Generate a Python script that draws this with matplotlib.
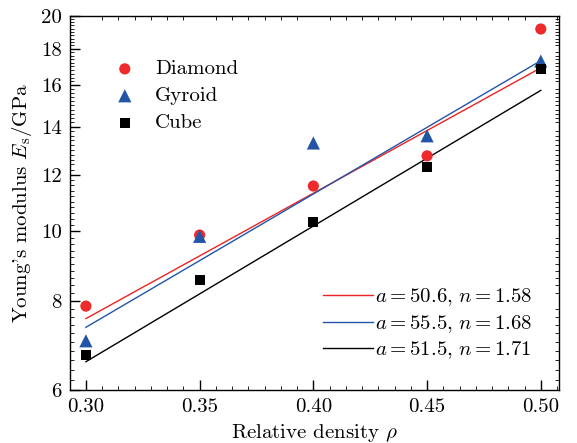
"""Young's modulus vs relative density for three lattice types, with power-law fits."""
import matplotlib
matplotlib.use("Agg")
import matplotlib.pyplot as plt
from matplotlib.ticker import FixedLocator, MultipleLocator, FormatStrFormatter, NullFormatter
import numpy as np

plt.rcParams["font.family"] = "cmr10"
plt.rcParams["mathtext.fontset"] = "cm"
plt.rcParams["axes.formatter.use_mathtext"] = True

density = [0.30, 0.35, 0.40, 0.45, 0.50]
diamond = [7.86, 9.88, 11.57, 12.75, 19.18]
gyroid = [7.03, 9.84, 13.29, 13.6, 17.3]
cube = [6.72, 8.55, 10.3, 12.3, 16.87]

fit_a = [50.6, 55.5, 51.5]
fit_n = [1.58, 1.68, 1.71]
fit_colors = ["#ee2222", "#2255aa", "black"]

y_ticks = [6, 8, 10, 12, 14, 16, 18, 20]

FS = 15


def main():
    fig, ax = plt.subplots(figsize=(5.77, 4.43), dpi=100)
    fig.subplots_adjust(left=0.1213, right=0.9688, top=0.9639, bottom=0.1196)

    ax.set_yscale("log")

    # fit lines drawn between the end densities only (straight on the chart)
    rho = np.array([density[0], density[-1]])
    line_handles = []
    for a, n, c in zip(fit_a, fit_n, fit_colors):
        h, = ax.plot(rho, a * rho ** n, color=c, lw=1.0,
                     label=rf"$a=${a},$\ n=${n}")
        line_handles.append(h)

    m1 = ax.scatter(density, diamond, marker="o", s=65, color="#ee2a2a",
                    edgecolors="none", label="Diamond", zorder=3)
    m2 = ax.scatter(density, gyroid, marker="^", s=90, color="#2255a5",
                    edgecolors="none", label="Gyroid", zorder=3)
    m3 = ax.scatter(density, cube, marker="s", s=50, color="black",
                    edgecolors="none", label="Cube", zorder=3)

    leg1 = ax.legend(handles=[m1, m2, m3], loc="upper left", frameon=False,
                     fontsize=FS, bbox_to_anchor=(0.0695, 0.883),
                     borderaxespad=0, borderpad=0, handlelength=2.0,
                     handletextpad=0.45, labelspacing=0.4)
    ax.add_artist(leg1)
    ax.legend(handles=line_handles, loc="lower right", frameon=False,
              fontsize=FS, bbox_to_anchor=(0.945, 0.077),
              borderaxespad=0, borderpad=0, handlelength=2.4,
              handletextpad=0.08, labelspacing=0.22)

    ax.set_xlim(0.293, 0.508)
    ax.set_ylim(6, 20)
    ax.xaxis.set_major_locator(FixedLocator(density))
    ax.xaxis.set_major_formatter(FormatStrFormatter("%.2f"))
    ax.xaxis.set_minor_locator(MultipleLocator(0.05 / 7))
    ax.yaxis.set_major_locator(FixedLocator(y_ticks))
    ax.yaxis.set_major_formatter(FormatStrFormatter("%d"))
    ax.yaxis.set_minor_locator(FixedLocator(np.arange(6, 20.01, 0.2)))
    ax.yaxis.set_minor_formatter(NullFormatter())

    ax.tick_params(which="both", direction="in", labelsize=FS)
    ax.tick_params(which="major", length=7, width=1, top=False, right=False, pad=6)
    ax.tick_params(which="minor", length=3, width=0.6, top=True, right=True)
    for s in ax.spines.values():
        s.set_linewidth(1.0)

    ax.set_xlabel(r"Relative density $\rho$", fontsize=FS, labelpad=4)
    ax.set_ylabel(r"Young's modulus $E_\mathrm{s}$/GPa", fontsize=FS, labelpad=5)

    fig.savefig("out.png", dpi=100)
    plt.close(fig)


if __name__ == "__main__":
    main()
